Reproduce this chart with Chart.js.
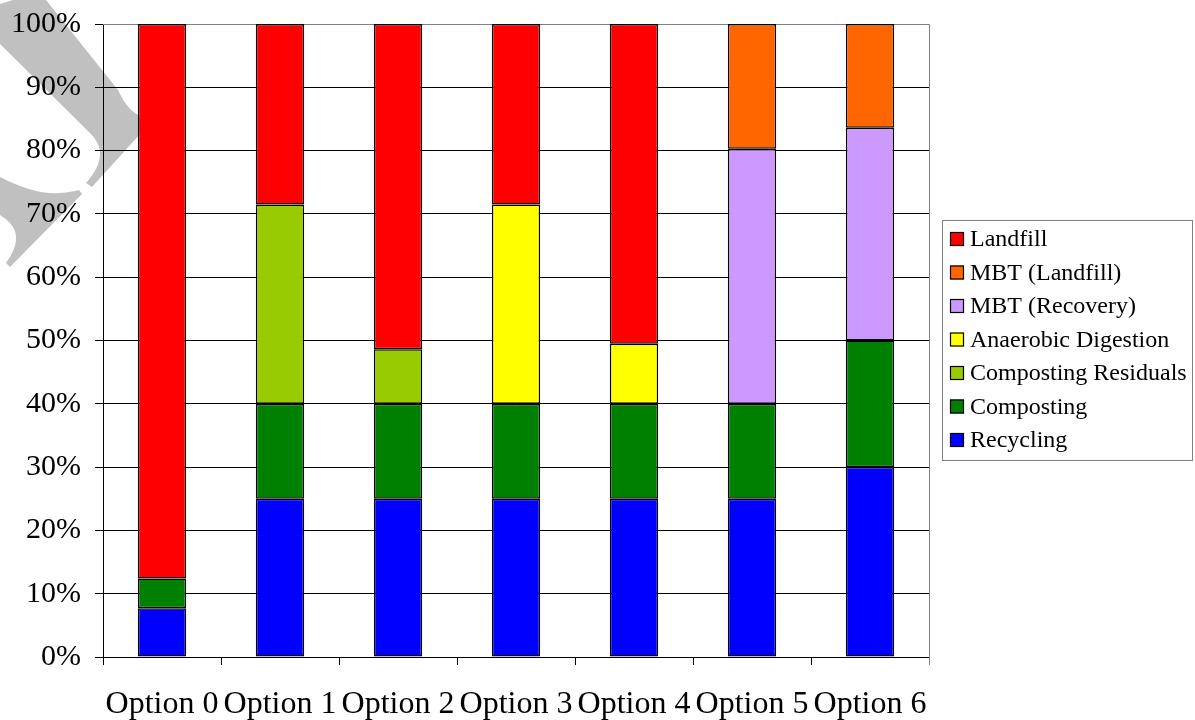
<!DOCTYPE html>
<html>
<head>
<meta charset="utf-8">
<script src="https://cdn.jsdelivr.net/npm/chart.js@4/dist/chart.umd.min.js"></script>
<style>
  html, body { margin: 0; padding: 0; background: #fff; }
  #wrap { width: 1195px; height: 720px; position: relative; }
</style>
</head>
<body>
<div id="wrap"><canvas id="c" width="1195" height="720"></canvas></div>
<script>
// Share of waste treated by each route, per option (percent)
const options = ['Option 0', 'Option 1', 'Option 2', 'Option 3', 'Option 4', 'Option 5', 'Option 6'];
const recycling = [7.7, 25, 25, 25, 25, 25, 30];
const composting = [4.7, 15, 15, 15, 15, 15, 20];
const compostingResiduals = [null, 31.5, 8.6, null, null, null, null];
const anaerobicDigestion = [null, null, null, 31.5, 9.5, null, null];
const mbtRecovery = [null, null, null, null, null, 40.3, 33.6];
const mbtLandfill = [null, null, null, null, null, 19.7, 16.4];
const landfill = [87.6, 28.5, 51.4, 28.5, 50.5, null, null];
const yTicks = [0, 10, 20, 30, 40, 50, 60, 70, 80, 90, 100];

const FONT = "'Liberation Serif', 'Times New Roman', serif";

function series(label, data, color) {
  return {
    label, data,
    backgroundColor: color,
    borderColor: '#000',
    borderWidth: 1.5,
    borderSkipped: false,
    barPercentage: 0.41,
    categoryPercentage: 1.0
  };
}

// white page + grey watermark stroke behind the plot
const backdrop = {
  id: 'backdrop',
  beforeDraw(chart) {
    const ctx = chart.ctx;
    ctx.save();
    ctx.fillStyle = '#fff';
    ctx.fillRect(0, 0, chart.width, chart.height);
    ctx.fillStyle = '#c0c0c0';
    ctx.beginPath();
    ctx.moveTo(0, 4);
    ctx.lineTo(13, 0);
    ctx.lineTo(46, 0);
    ctx.lineTo(118, 90);
    ctx.quadraticCurveTo(128, 112, 141, 116);
    ctx.lineTo(141, 133);
    ctx.lineTo(92, 187);
    ctx.lineTo(86, 183);
    ctx.quadraticCurveTo(101, 166, 100, 152);
    ctx.quadraticCurveTo(99, 141, 88, 131);
    ctx.lineTo(0, 44);
    ctx.closePath();
    ctx.fill();
    ctx.beginPath();
    ctx.moveTo(0, 177);
    ctx.quadraticCurveTo(35, 195, 60, 193);
    ctx.quadraticCurveTo(72, 192, 79, 190);
    ctx.lineTo(82, 194);
    ctx.lineTo(10, 267);
    ctx.lineTo(6, 263);
    ctx.quadraticCurveTo(24, 238, 10, 223);
    ctx.quadraticCurveTo(5, 218, 0, 215);
    ctx.closePath();
    ctx.fill();
    ctx.restore();
  }
};

// grey frame along the top and right of the plot
const frame = {
  id: 'frame',
  beforeDatasetsDraw(chart) {
    const { ctx, chartArea: a } = chart;
    ctx.save();
    ctx.strokeStyle = '#808080';
    ctx.lineWidth = 1;
    ctx.beginPath();
    ctx.moveTo(a.left, a.top + 0.5);
    ctx.lineTo(a.right + 0.5, a.top + 0.5);
    ctx.lineTo(a.right + 0.5, a.bottom + 8);
    ctx.stroke();
    ctx.restore();
  }
};

// boxed legend, top series first
const boxLegend = {
  id: 'boxLegend',
  afterDraw(chart) {
    const ctx = chart.ctx;
    const x0 = 942, y0 = 220, w = 251, h = 241;
    ctx.save();
    ctx.fillStyle = '#fff';
    ctx.fillRect(x0, y0, w, h);
    ctx.strokeStyle = '#808080';
    ctx.lineWidth = 1;
    ctx.strokeRect(x0 + 0.5, y0 + 0.5, w - 1, h - 1);
    ctx.font = '24px ' + FONT;
    ctx.textBaseline = 'middle';
    ctx.textAlign = 'left';
    const sets = chart.data.datasets.slice().reverse();
    sets.forEach((ds, i) => {
      const cy = 239 + i * 33.5;
      ctx.fillStyle = ds.backgroundColor;
      ctx.fillRect(950, cy - 7, 14, 14);
      ctx.strokeStyle = '#000';
      ctx.lineWidth = 1.2;
      ctx.strokeRect(950.5, cy - 6.5, 13, 13);
      ctx.fillStyle = '#000';
      ctx.fillText(ds.label, 970, cy + 1);
    });
    ctx.restore();
  }
};

new Chart(document.getElementById('c'), {
  type: 'bar',
  data: {
    labels: options,
    datasets: [
      series('Recycling', recycling, '#0000ff'),
      series('Composting', composting, '#008000'),
      series('Composting Residuals', compostingResiduals, '#99cc00'),
      series('Anaerobic Digestion', anaerobicDigestion, '#ffff00'),
      series('MBT (Recovery)', mbtRecovery, '#cc99ff'),
      series('MBT (Landfill)', mbtLandfill, '#ff6600'),
      series('Landfill', landfill, '#ff0000')
    ]
  },
  options: {
    responsive: false,
    animation: false,
    devicePixelRatio: 1,
    layout: { padding: { left: 0, right: 266, top: 24, bottom: 0 } },
    plugins: {
      legend: { display: false },
      tooltip: { enabled: false }
    },
    scales: {
      x: {
        stacked: true,
        grid: { drawOnChartArea: false, drawTicks: true, tickLength: 8, color: '#000', offset: true },
        border: { display: true, color: '#000', width: 1 },
        ticks: { color: '#000', font: { family: FONT, size: 32 }, padding: 20, maxRotation: 0, autoSkip: false },
        afterFit(scale) {
          scale.height = 63;
          scale.paddingLeft = 0;
          scale.paddingRight = 0;
        }
      },
      y: {
        stacked: true,
        min: 0,
        max: 100,
        afterBuildTicks(scale) { scale.ticks = yTicks.map(v => ({ value: v })); },
        grid: { color: '#000', lineWidth: 1, tickLength: 8, drawTicks: true },
        border: { display: true, color: '#000', width: 1 },
        ticks: {
          color: '#000',
          font: { family: FONT, size: 30 },
          padding: 14,
          callback: v => v + '%'
        },
        afterFit(scale) {
          scale.width = 103;
          scale.paddingTop = 0;
          scale.paddingBottom = 0;
        }
      }
    }
  },
  plugins: [backdrop, frame, boxLegend]
});
</script>
</body>
</html>
